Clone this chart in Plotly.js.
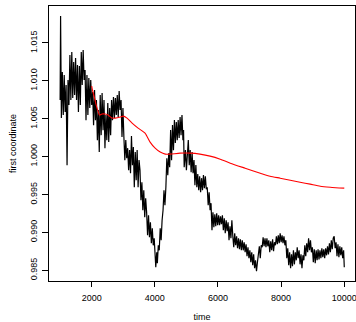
<!DOCTYPE html>
<html>
<head>
<meta charset="utf-8">
<script src="https://cdn.plot.ly/plotly-3.0.1.min.js"></script>
<style>html,body{margin:0;padding:0;background:#fff;}#chart{width:356px;height:322px;}</style>
</head>
<body>
<div id="chart"></div>
<script>
// black trace: first coordinate over time
const timeBlack = [1000,1015,1040,1070,1100,1130,1160,1190,1220,1250,1280,1310,1340,1370,1400,1430,1460,1490,1520,1550,1580,1610,1640,1670,1700,1730,1760,1790,1820,1850,1880,1910,1940,1970,
2000,2030,2060,2090,2120,2150,2180,2210,2240,2270,2300,2330,2360,2390,2420,2450,2480,2510,2540,2570,2600,2630,2660,2690,2720,2750,2780,2810,2840,2870,2900,2930,2960,2990,
3020,3050,3080,3110,3140,3170,3200,3230,3260,3290,3320,3350,3380,3410,3440,3470,3500,3530,3560,3590,3620,3650,3680,3710,3740,3770,3800,3830,3860,3890,3920,3950,3980,
4010,4030,4060,4080,4110,4140,4170,4200,4230,4260,4290,4320,4350,4380,4410,4440,4470,4500,4530,4560,4590,4620,4650,4680,4710,4740,4770,4800,4830,4860,4890,4910,4930,4950,4970,
5000,5030,5060,5090,5120,5150,5180,5210,5240,5270,5300,5330,5360,5390,5420,5450,5480,5510,5540,5570,5600,5630,5660,5690,5720,5750,5780,5810,5840,5870,5900,5930,5960,5990,
6020,6050,6080,6110,6140,6170,6200,6230,6260,6290,6320,6350,6380,6410,6440,6470,6500,6530,6560,6590,6620,6650,6680,6710,6740,6770,6800,6830,6860,6890,6920,6950,6980,
7010,7040,7070,7100,7130,7160,7190,7220,7250,7280,7310,7340,7370,7400,7430,7460,7490,7520,7550,7580,7610,7640,7670,7700,7730,7760,7790,7820,7850,7880,7910,7940,7970,
8000,8030,8060,8090,8120,8150,8180,8210,8240,8270,8300,8330,8360,8390,8420,8450,8480,8510,8540,8570,8600,8630,8660,8690,8720,8750,8780,8810,8840,8870,8900,8930,8960,8990,
9020,9050,9080,9110,9140,9170,9200,9230,9260,9290,9320,9350,9380,9410,9440,9470,9500,9530,9560,9590,9620,9650,9680,9710,9740,9770,9800,9830,9860,9890,9920,9950,9980,10000];
const valueBlack = [1.00747,1.01857,1.00509,1.01117,1.00549,1.01077,1.00588,1.00945,0.99888,1.01011,1.00681,1.01341,1.00747,1.01381,1.00773,1.01249,1.00813,1.01302,1.00747,1.01209,1.00588,1.01196,1.00681,1.01381,1.00945,1.01408,1.01011,1.01143,1.00482,1.01077,1.00549,1.01038,1.00641,1.01011,
1.00681,1.00853,1.00416,1.00879,1.00482,1.00747,1.00218,1.00615,1.00060,1.00813,1.00284,1.00839,1.00350,1.00747,1.00112,1.00549,1.00218,1.00707,1.00192,1.00641,1.00284,1.00747,1.00482,1.00786,1.00509,1.00773,1.00549,1.00813,1.00522,1.00866,1.00615,1.00747,1.00258,1.00641,
1.00258,0.99954,1.00218,0.99980,1.00112,0.99822,1.00086,0.99782,1.00271,0.99888,1.00126,0.99597,1.00060,0.99689,1.00086,0.99597,0.99954,0.99822,0.99425,0.99663,0.99293,0.99557,0.99200,0.99452,0.99267,0.98963,0.99227,0.98936,0.99134,0.98857,0.99055,0.98830,0.98923,
0.98698,0.98540,0.98738,0.98593,0.98830,0.98764,0.99055,0.98897,0.99161,0.99293,0.99557,0.99359,0.99597,0.99980,0.99756,1.00046,0.99861,1.00350,0.99954,1.00416,1.00086,1.00482,1.00179,1.00456,1.00218,1.00482,1.00245,1.00522,1.00284,1.00549,1.00218,1.00350,0.99861,0.99954,1.00086,
0.99822,1.00112,1.00218,0.99888,1.00086,0.99795,1.00060,0.99782,0.99954,0.99623,0.99888,0.99597,0.99769,0.99557,0.99742,0.99531,0.99716,0.99557,0.99756,0.99584,0.99742,0.99571,0.99597,0.99359,0.99531,0.99293,0.99386,0.99029,0.99267,0.99068,0.99240,0.99082,0.99253,0.99095,
0.99227,0.99095,0.99214,0.99108,0.99227,0.99029,0.99187,0.98989,0.99161,0.99015,0.99134,0.98897,0.99082,0.98923,0.99161,0.98949,0.98804,0.98989,0.98830,0.98949,0.98791,0.98923,0.98778,0.98910,0.98764,0.98897,0.98764,0.98870,0.98738,0.98844,0.98685,0.98804,0.98659,
0.98764,0.98606,0.98738,0.98566,0.98711,0.98527,0.98632,0.98487,0.98606,0.98685,0.98817,0.98659,0.98830,0.98804,0.98936,0.98817,0.98923,0.98804,0.98923,0.98817,0.98897,0.98738,0.98883,0.98764,0.98910,0.98751,0.98870,0.98830,0.98949,0.98844,0.98963,0.98857,0.98989,
0.98870,0.98963,0.98857,0.98949,0.98830,0.98897,0.98659,0.98791,0.98566,0.98738,0.98527,0.98711,0.98553,0.98764,0.98579,0.98738,0.98632,0.98804,0.98659,0.98764,0.98579,0.98711,0.98527,0.98698,0.98632,0.98830,0.98685,0.98857,0.98738,0.98923,0.98764,0.98897,0.98738,0.98804,
0.98606,0.98778,0.98593,0.98764,0.98632,0.98778,0.98645,0.98764,0.98659,0.98791,0.98672,0.98778,0.98659,0.98791,0.98698,0.98817,0.98711,0.98857,0.98738,0.98897,0.98778,0.98923,0.98949,0.98791,0.98870,0.98685,0.98844,0.98672,0.98817,0.98698,0.98804,0.98659,0.98764,0.98540];

// red trace: running mean
const timeRed = [2000,2025,2075,2135,2200,2250,2325,2425,2520,2645,2740,2900,2995,3120,3280,3470,3690,3850,4010,4170,4330,4480,4800,5120,5430,5750,6070,6390,6860,7340,7650,7970,8290,8600,8920,9240,9560,10000];
const valueRed = [1.00932,1.00879,1.00800,1.00694,1.00601,1.00549,1.00562,1.00562,1.00549,1.00509,1.00509,1.00522,1.00535,1.00509,1.00443,1.00377,1.00311,1.00192,1.00112,1.00060,1.00033,1.00033,1.00046,1.00046,1.00033,1.00007,0.99967,0.99914,0.99848,0.99782,0.99742,0.99716,0.99689,0.99663,0.99637,0.99610,0.99597,0.99584];

const xTickVals = [2000,4000,6000,8000,10000];
const xTickText = ["2000","4000","6000","8000","10000"];
const yTickVals = [0.985,0.990,0.995,1.000,1.005,1.010,1.015];
const yTickText = ["0.985","0.990","0.995","1.000","1.005","1.010","1.015"];

const font = {family: "Liberation Sans, Arial, Helvetica, sans-serif", size: 9, color: "#000"};

const traces = [
  {x: timeBlack, y: valueBlack, type: "scatter", mode: "lines", line: {color: "#000", width: 1.2}, hoverinfo: "skip"},
  {x: timeRed, y: valueRed, type: "scatter", mode: "lines", line: {color: "#ff0000", width: 1.1, shape: "spline", smoothing: 0.6}, hoverinfo: "skip"}
];

const layout = {
  width: 356, height: 322,
  paper_bgcolor: "#fff", plot_bgcolor: "#fff",
  showlegend: false,
  font: font,
  margin: {l: 49, r: 1, t: 6, b: 41, pad: 0},
  xaxis: {
    range: [648, 10340], tickmode: "array", tickvals: xTickVals, ticktext: xTickText,
    showgrid: false, zeroline: false, showline: true, mirror: true, linecolor: "#000", linewidth: 1,
    ticks: "outside", ticklen: 5, tickwidth: 1, tickcolor: "#000", tickfont: font,
    ticklabeloverflow: "allow", ticklabelstandoff: 3,
    title: {text: "time", font: font, standoff: 14}
  },
  yaxis: {
    range: [0.98359, 1.01988], tickmode: "array", tickvals: yTickVals, ticktext: yTickText,
    showgrid: false, zeroline: false, showline: true, mirror: true, linecolor: "#000", linewidth: 1,
    ticks: "outside", ticklen: 6, tickwidth: 1, tickcolor: "#000", tickfont: font, tickangle: -90,
    ticklabeloverflow: "allow", ticklabelstandoff: 1,
    title: {text: "first coordinate", font: font, standoff: 11}
  }
};

Plotly.newPlot("chart", traces, layout, {staticPlot: true, displayModeBar: false});
</script>
</body>
</html>
